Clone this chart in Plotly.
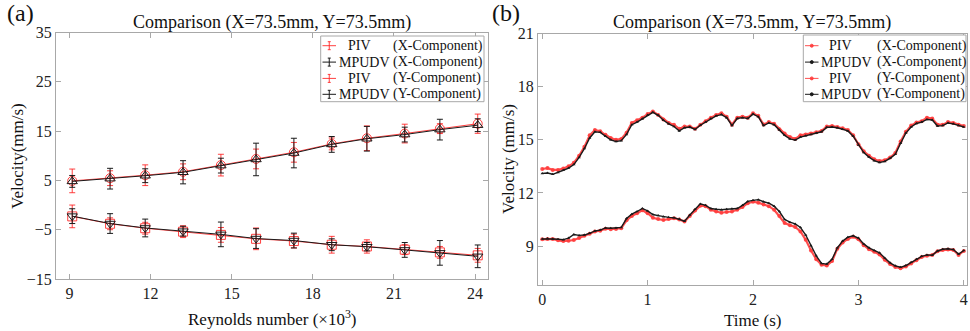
import plotly.graph_objects as go

# ---------------- Panel (a) data ----------------
re_numbers = [9.1, 10.5, 11.8, 13.2, 14.6, 15.9, 17.3, 18.7, 20.0, 21.4, 22.7, 24.1]
piv_x = [4.9, 5.45, 6.05, 6.75, 8.1, 9.35, 10.7, 12.4, 13.55, 14.5, 15.5, 16.5]
piv_x_err = [2.4, 1.5, 2.1, 1.6, 2.2, 2.0, 2.0, 1.2, 2.5, 1.9, 1.0, 1.95]
mpudv_x = [4.8, 5.35, 5.95, 6.65, 8.0, 9.25, 10.55, 12.3, 13.45, 14.3, 15.3, 16.2]
mpudv_x_err = [1.2, 2.1, 1.4, 2.35, 1.5, 3.3, 3.0, 1.6, 2.5, 1.5, 2.1, 1.3]
piv_y = [-2.3, -3.8, -4.7, -5.4, -6.05, -6.85, -7.3, -8.05, -8.4, -9.05, -9.6, -10.2]
piv_y_err = [2.3, 1.2, 1.2, 1.2, 1.5, 2.2, 1.4, 1.7, 1.35, 1.0, 1.2, 1.4]
mpudv_y = [-2.25, -3.75, -4.65, -5.3, -5.95, -6.8, -7.2, -8.05, -8.45, -9.1, -9.7, -10.4]
mpudv_y_err = [1.5, 2.0, 1.8, 1.0, 2.5, 2.0, 1.5, 1.2, 0.85, 1.5, 2.5, 2.3]

# ---------------- Panel (b) data ----------------
time_s = [0.00, 0.05, 0.10, 0.15, 0.20, 0.25, 0.30, 0.35, 0.40, 0.45,
          0.50, 0.55, 0.60, 0.65, 0.70, 0.75, 0.80, 0.85, 0.90, 0.95,
          1.00, 1.05, 1.10, 1.15, 1.20, 1.25, 1.30, 1.35, 1.40, 1.45,
          1.50, 1.55, 1.60, 1.65, 1.70, 1.75, 1.80, 1.85, 1.90, 1.95,
          2.00, 2.05, 2.10, 2.15, 2.20, 2.25, 2.30, 2.35, 2.40, 2.45,
          2.50, 2.55, 2.60, 2.65, 2.70, 2.75, 2.80, 2.85, 2.90, 2.95,
          3.00, 3.05, 3.10, 3.15, 3.20, 3.25, 3.30, 3.35, 3.40, 3.45,
          3.50, 3.55, 3.60, 3.65, 3.70, 3.75, 3.80, 3.85, 3.90, 3.95, 4.00]
piv_x_t = [13.35, 13.40, 13.30, 13.30, 13.38, 13.50, 13.70, 14.10, 14.60, 15.25,
           15.55, 15.48, 15.28, 15.10, 15.00, 15.05, 15.40, 15.95, 16.10, 16.25,
           16.45, 16.60, 16.40, 16.15, 15.95, 15.85, 15.62, 15.75, 15.75, 15.62,
           15.85, 16.05, 16.25, 16.40, 16.50, 16.30, 15.85, 16.25, 16.30, 16.25,
           16.50, 16.35, 15.86, 16.00, 15.90, 15.60, 15.35, 15.15, 15.05, 15.25,
           15.30, 15.35, 15.42, 15.50, 15.75, 15.78, 15.72, 15.65, 15.55, 15.25,
           14.75, 14.35, 14.10, 13.90, 13.80, 13.85, 14.00, 14.25, 14.90, 15.45,
           15.80, 15.98, 16.05, 16.25, 16.20, 15.85, 15.85, 16.00, 15.95, 15.85, 15.78]
mpudv_x_t = [13.10, 13.12, 13.05, 13.15, 13.28, 13.40, 13.60, 14.00, 14.50, 15.10,
             15.45, 15.42, 15.20, 15.00, 14.90, 14.95, 15.30, 15.85, 16.00, 16.18,
             16.40, 16.55, 16.38, 16.10, 15.90, 15.75, 15.50, 15.68, 15.72, 15.58,
             15.82, 16.00, 16.20, 16.35, 16.42, 16.25, 15.80, 16.20, 16.25, 16.20,
             16.45, 16.30, 15.80, 15.95, 15.85, 15.55, 15.25, 15.05, 14.98, 15.15,
             15.22, 15.30, 15.38, 15.45, 15.70, 15.72, 15.68, 15.60, 15.50, 15.20,
             14.70, 14.28, 14.02, 13.82, 13.72, 13.78, 13.95, 14.18, 14.80, 15.38,
             15.72, 15.92, 16.00, 16.15, 16.12, 15.78, 15.80, 15.95, 15.90, 15.80, 15.72]
piv_y_t = [9.38, 9.40, 9.40, 9.32, 9.28, 9.30, 9.34, 9.45, 9.58, 9.70,
           9.82, 9.87, 9.98, 9.95, 9.96, 10.00, 10.45, 10.70, 10.85, 11.02,
           10.85, 10.60, 10.52, 10.47, 10.52, 10.57, 10.50, 10.38, 10.70, 11.00,
           11.28, 11.25, 11.05, 10.95, 10.88, 10.92, 10.95, 11.05, 11.20, 11.42,
           11.50, 11.45, 11.35, 11.25, 11.05, 10.70, 10.30, 10.18, 10.08, 9.82,
           9.35, 8.75, 8.25, 7.95, 7.90, 8.15, 8.85, 9.20, 9.40, 9.52,
           9.38, 9.05, 8.82, 8.68, 8.52, 8.22, 7.98, 7.82, 7.74, 7.85,
           8.02, 8.20, 8.38, 8.45, 8.50, 8.70, 8.78, 8.80, 8.78, 8.50, 8.72]
mpudv_y_t = [9.40, 9.42, 9.40, 9.38, 9.36, 9.45, 9.65, 9.60, 9.62, 9.72,
             9.85, 9.90, 10.02, 10.00, 10.02, 10.05, 10.55, 10.80, 10.95, 11.12,
             10.98, 10.78, 10.72, 10.65, 10.62, 10.60, 10.52, 10.40, 10.75, 11.08,
             11.38, 11.30, 11.12, 11.08, 11.05, 11.08, 11.10, 11.12, 11.30, 11.52,
             11.58, 11.62, 11.50, 11.42, 11.25, 10.95, 10.50, 10.35, 10.25, 10.05,
             9.62, 9.02, 8.45, 8.02, 7.98, 8.25, 8.90, 9.28, 9.50, 9.58,
             9.45, 9.12, 8.90, 8.75, 8.62, 8.32, 8.05, 7.88, 7.80, 7.90,
             8.08, 8.25, 8.42, 8.50, 8.48, 8.72, 8.82, 8.85, 8.80, 8.55, 8.75]

x_ticks_a = [9, 12, 15, 18, 21, 24]
y_ticks_a = [-15, -5, 5, 15, 25, 35]
x_ticks_b = [0, 1, 2, 3, 4]
y_ticks_b = [9, 12, 15, 18, 21]

legend_methods = ["PIV", "MPUDV", "PIV", "MPUDV"]
legend_components = ["(X-Component)", "(X-Component)", "(Y-Component)", "(Y-Component)"]

RED = "rgba(255,30,30,0.85)"
RED_B = "rgba(255,60,60,0.9)"
BLK = "#1a1a1a"
GRAY = "#a8a8a8"
SERIF = "Liberation Serif"
W, H = 970, 331

fig = go.Figure()

# ---- panel (a) traces ----
series_a = [
    (piv_x, piv_x_err, RED, "circle-open"),
    (mpudv_x, mpudv_x_err, BLK, "triangle-up-open"),
    (piv_y, piv_y_err, RED, "square-open"),
    (mpudv_y, mpudv_y_err, BLK, "triangle-down-open"),
]
for (vals, errs, col, sym), meth, comp in zip(series_a, legend_methods, legend_components):
    fig.add_trace(go.Scatter(
        x=re_numbers, y=vals, mode="lines+markers", xaxis="x", yaxis="y",
        name=f"{meth} {comp}",
        line=dict(color=col, width=1),
        marker=dict(symbol=sym, size=9, color=col, line=dict(width=1, color=col)),
        error_y=dict(type="data", array=errs, visible=True, color=col, thickness=1, width=3),
        showlegend=False))

# ---- panel (b) traces ----
series_b = [
    (piv_x_t, RED_B, "circle", 4, 2.2),
    (mpudv_x_t, BLK, "triangle-up", 3, 1.4),
    (piv_y_t, RED_B, "circle", 4, 2.2),
    (mpudv_y_t, BLK, "triangle-up", 3, 1.4),
]
for (vals, col, sym, sz, lw), meth, comp in zip(series_b, legend_methods, legend_components):
    fig.add_trace(go.Scatter(
        x=time_s, y=vals, mode="lines+markers", xaxis="x2", yaxis="y2",
        name=f"{meth} {comp}",
        line=dict(color=col, width=lw),
        marker=dict(symbol=sym, size=sz, color=col),
        showlegend=False))

axis_common = dict(showline=True, linecolor=GRAY, linewidth=1, mirror="ticks",
                   ticks="inside", ticklen=5, tickcolor=GRAY, showgrid=False,
                   zeroline=False, automargin=False,
                   tickfont=dict(family=SERIF, size=16, color="#222"))


def py(px):
    return 1 - px / H


def pxx(px):
    return px / W


fig.update_layout(
    width=W, height=H, margin=dict(l=0, r=0, t=0, b=0),
    paper_bgcolor="white", plot_bgcolor="white",
    font=dict(family=SERIF, color="#111"),
    showlegend=False,
    xaxis=dict(domain=[pxx(56), pxx(488)], range=[8.5, 24.48], tickvals=x_ticks_a,
               anchor="y", **axis_common),
    yaxis=dict(domain=[py(279), py(32.5)], range=[-15, 35], tickvals=y_ticks_a,
               anchor="x", **axis_common),
    xaxis2=dict(domain=[pxx(538), pxx(967)], range=[-0.04, 4.03], tickvals=x_ticks_b,
                anchor="y2", **axis_common),
    yaxis2=dict(domain=[py(285), py(33.5)], range=[6.8, 21], tickvals=y_ticks_b,
                anchor="x2", **axis_common),
)

ann = [
    dict(text="(a)", x=pxx(20), y=py(13), font=dict(size=24)),
    dict(text="(b)", x=pxx(506), y=py(13), font=dict(size=24)),
    dict(text="Comparison (X=73.5mm, Y=73.5mm)", x=pxx(272), y=py(23), font=dict(size=18)),
    dict(text="Comparison (X=73.5mm, Y=73.5mm)", x=pxx(752), y=py(23), font=dict(size=18)),
    dict(text="Reynolds number (×10<sup>3</sup>)", x=pxx(272), y=py(318), font=dict(size=17)),
    dict(text="Time (s)", x=pxx(752), y=py(320), font=dict(size=17)),
    dict(text="Velocity(mm/s)", x=pxx(17), y=py(156), font=dict(size=17), textangle=-90),
    dict(text="Velocity (mm/s)", x=pxx(508), y=py(159), font=dict(size=17), textangle=-90),
]
for a in ann:
    a.update(xanchor="center")

shapes = []

# ---- hand-made legends (box, glyphs, texts) ----
def add_legend(box, rows_y, glyph_x, meth_left, piv_center, comp_left, style):
    x0, y0, x1, y1 = box
    shapes.append(dict(type="rect", xref="paper", yref="paper",
                       x0=pxx(x0), x1=pxx(x1), y0=py(y1), y1=py(y0),
                       line=dict(color=GRAY, width=1), fillcolor="white", layer="above"))
    cols = [RED, BLK, RED, BLK] if style == "a" else [RED_B, BLK, RED_B, BLK]
    for ry, meth, comp, col in zip(rows_y, legend_methods, legend_components, cols):
        gx0, gx1 = glyph_x
        gxc = (gx0 + gx1) / 2
        shapes.append(dict(type="line", xref="paper", yref="paper",
                           x0=pxx(gx0), x1=pxx(gx1), y0=py(ry), y1=py(ry),
                           line=dict(color=col, width=1), layer="above"))
        if style == "a":
            shapes.append(dict(type="line", xref="paper", yref="paper",
                               x0=pxx(gxc), x1=pxx(gxc), y0=py(ry - 4), y1=py(ry + 4),
                               line=dict(color=col, width=1), layer="above"))
            for dy in (-4, 4):
                shapes.append(dict(type="line", xref="paper", yref="paper",
                                   x0=pxx(gxc - 1.5), x1=pxx(gxc + 1.5),
                                   y0=py(ry + dy), y1=py(ry + dy),
                                   line=dict(color=col, width=1), layer="above"))
        else:
            shapes.append(dict(type="circle", xref="paper", yref="paper",
                               x0=pxx(gxc - 1.5), x1=pxx(gxc + 1.5),
                               y0=py(ry + 1.5), y1=py(ry - 1.5),
                               line=dict(color=col, width=1), fillcolor=col, layer="above"))
        if meth == "PIV":
            ann.append(dict(text=meth, x=pxx(piv_center), y=py(ry), xanchor="center",
                            font=dict(size=14)))
        else:
            ann.append(dict(text=meth, x=pxx(meth_left), y=py(ry), xanchor="left",
                            font=dict(size=14)))
        ann.append(dict(text=comp, x=pxx(comp_left), y=py(ry), xanchor="left",
                        font=dict(size=14)))


add_legend(box=(320.7, 36, 484, 101.7), rows_y=[45.7, 62.1, 78.4, 94.3],
           glyph_x=(322.5, 336), meth_left=336.5, piv_center=359, comp_left=391,
           style="a")
add_legend(box=(803.3, 35, 966, 101.7), rows_y=[45.7, 62.1, 78.4, 94.3],
           glyph_x=(805, 818.5), meth_left=819, piv_center=840.5, comp_left=874.5,
           style="b")

for a in ann:
    a.update(xref="paper", yref="paper", showarrow=False, yanchor="middle")
    a["font"].update(family=SERIF, color="#111")
fig.update_layout(annotations=ann, shapes=shapes)

fig.write_html(
    "out.html",
    config={"displayModeBar": False},
    post_script="document.body.style.margin='0';document.body.style.padding='0';"
                "document.body.style.overflow='hidden';",
)
